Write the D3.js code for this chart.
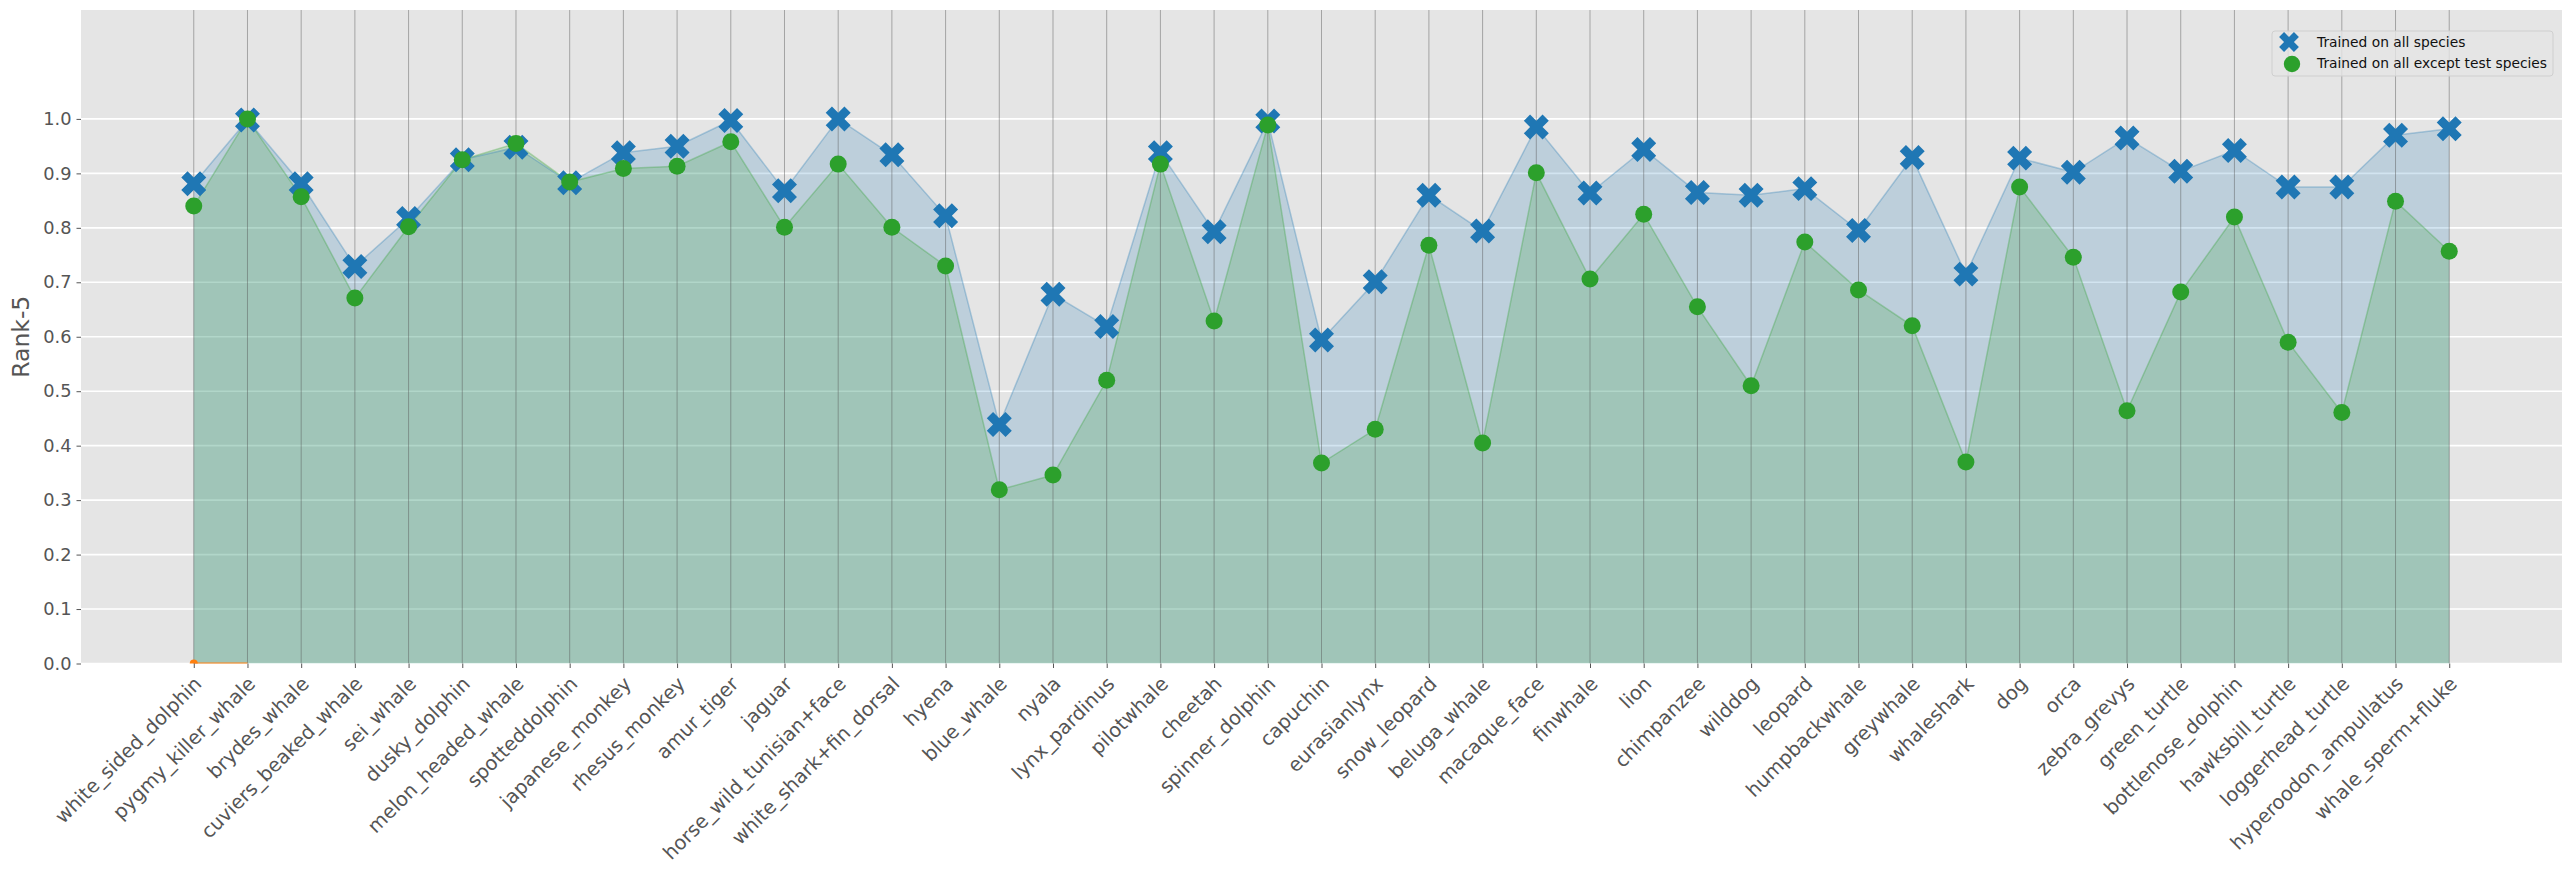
<!DOCTYPE html>
<html>
<head>
<meta charset="utf-8">
<script src="https://cdn.jsdelivr.net/npm/d3@7"></script>
<style>
  body { margin: 0; background: #fff; }
  svg { display: block; }
  svg text { font-family: "DejaVu Sans", sans-serif; }
</style>
</head>
<body>
<div id="chart"></div>
<script>
// species on the x axis
const species = [
  'white_sided_dolphin', 'pygmy_killer_whale', 'brydes_whale', 'cuviers_beaked_whale',
  'sei_whale', 'dusky_dolphin', 'melon_headed_whale', 'spotteddolphin', 'japanese_monkey',
  'rhesus_monkey', 'amur_tiger', 'jaguar', 'horse_wild_tunisian+face', 'white_shark+fin_dorsal',
  'hyena', 'blue_whale', 'nyala', 'lynx_pardinus', 'pilotwhale', 'cheetah', 'spinner_dolphin',
  'capuchin', 'eurasianlynx', 'snow_leopard', 'beluga_whale', 'macaque_face', 'finwhale',
  'lion', 'chimpanzee', 'wilddog', 'leopard', 'humpbackwhale', 'greywhale', 'whaleshark',
  'dog', 'orca', 'zebra_grevys', 'green_turtle', 'bottlenose_dolphin', 'hawksbill_turtle',
  'loggerhead_turtle', 'hyperoodon_ampullatus', 'whale_sperm+fluke',
];

// rank-5, trained on all species
const allSpecies = [
  0.881, 0.998, 0.881, 0.729, 0.817, 0.925, 0.948, 0.883, 0.938, 0.950,
  0.997, 0.868, 1.000, 0.934, 0.822, 0.439, 0.678, 0.619, 0.938, 0.793,
  0.996, 0.594, 0.701, 0.860, 0.794, 0.985, 0.864, 0.944, 0.865, 0.860,
  0.872, 0.795, 0.929, 0.715, 0.928, 0.902, 0.965, 0.904, 0.942, 0.875,
  0.875, 0.970, 0.982,
];

// rank-5, trained on all except the test species
const exceptTest = [
  0.840, 1.000, 0.857, 0.671, 0.802, 0.925, 0.955, 0.884, 0.909, 0.913,
  0.958, 0.801, 0.917, 0.801, 0.730, 0.319, 0.346, 0.520, 0.917, 0.629,
  0.989, 0.368, 0.430, 0.768, 0.405, 0.901, 0.706, 0.825, 0.655, 0.510,
  0.774, 0.686, 0.620, 0.370, 0.875, 0.746, 0.464, 0.682, 0.820, 0.590,
  0.461, 0.849, 0.757,
];

// the short orange trace sitting on the zero line
const orangeTrace = [0, 0];

const yTicks = [0, 0.1, 0.2, 0.3, 0.4, 0.5, 0.6, 0.7, 0.8, 0.9, 1.0];
const legendLabels = ['Trained on all species', 'Trained on all except test species'];

const W = 2570;
const H = 874;
const margin = { top: 10, right: 8, bottom: 210.5, left: 81 };
const width = W - margin.left - margin.right;
const height = H - margin.top - margin.bottom;

const blue = '#1f77b4';
const green = '#2ca02c';
const orange = '#ff7f0e';
const font = '"DejaVu Sans", sans-serif';

// filled "X" marker (plus with 1/3 arm thickness, turned 45 degrees)
const xMarker = (L) => {
  const h = L / 3;
  const pts = [[h, L], [h, h], [L, h], [L, -h], [h, -h], [h, -L], [-h, -L], [-h, -h],
    [-L, -h], [-L, h], [-h, h], [-h, L]];
  return `M${pts.map((p) => p.join(',')).join('L')}Z`;
};

const svg = d3.select('#chart')
  .append('svg')
  .attr('width', W)
  .attr('height', H);

svg.append('rect').attr('width', W).attr('height', H).attr('fill', '#fff');

const g = svg.append('g')
  .attr('transform', `translate(${margin.left},${margin.top})`);

const x = d3.scalePoint()
  .domain(species)
  .range([0, width])
  .padding(2.1);

const y = d3.scaleLinear()
  .domain([0, 1.2])
  .range([height, 0]);

// background + grid
g.append('rect').attr('width', width).attr('height', height).attr('fill', '#e5e5e5');

g.append('defs').append('clipPath').attr('id', 'clip')
  .append('rect').attr('width', width).attr('height', height);

g.append('g')
  .selectAll('line')
  .data(yTicks)
  .enter()
  .append('line')
  .attr('x1', 0)
  .attr('x2', width)
  .attr('y1', (d) => y(d))
  .attr('y2', (d) => y(d))
  .attr('stroke', '#fff')
  .attr('stroke-width', 1.6);

const plot = g.append('g').attr('clip-path', 'url(#clip)');

const area = d3.area()
  .x((d, i) => x(species[i]))
  .y0(y(0))
  .y1((d) => y(d));

const line = d3.line()
  .x((d, i) => x(species[i]))
  .y((d) => y(d));

plot.append('path').datum(allSpecies).attr('d', area)
  .attr('fill', blue).attr('fill-opacity', 0.2);
plot.append('path').datum(exceptTest).attr('d', area)
  .attr('fill', green).attr('fill-opacity', 0.2);

plot.append('path').datum(allSpecies).attr('d', line)
  .attr('fill', 'none').attr('stroke', blue).attr('stroke-opacity', 0.3).attr('stroke-width', 1.5);
plot.append('path').datum(exceptTest).attr('d', line)
  .attr('fill', 'none').attr('stroke', green).attr('stroke-opacity', 0.3).attr('stroke-width', 1.5);

// vertical line at each species
plot.append('g')
  .selectAll('line')
  .data(species)
  .enter()
  .append('line')
  .attr('x1', (d) => x(d))
  .attr('x2', (d) => x(d))
  .attr('y1', 0)
  .attr('y2', height)
  .attr('stroke', '#555')
  .attr('stroke-opacity', 0.45)
  .attr('stroke-width', 1);

// orange trace
plot.append('path').datum(orangeTrace).attr('d', line)
  .attr('fill', 'none').attr('stroke', orange).attr('stroke-width', 1.8);
plot.append('circle')
  .attr('cx', x(species[0]))
  .attr('cy', y(orangeTrace[0]))
  .attr('r', 4)
  .attr('fill', orange);

// markers
plot.append('g')
  .selectAll('path')
  .data(allSpecies)
  .enter()
  .append('path')
  .attr('d', xMarker(13.25))
  .attr('transform', (d, i) => `translate(${x(species[i])},${y(d)}) rotate(45)`)
  .attr('fill', blue);

plot.append('g')
  .selectAll('circle')
  .data(exceptTest)
  .enter()
  .append('circle')
  .attr('cx', (d, i) => x(species[i]))
  .attr('cy', (d) => y(d))
  .attr('r', 8.5)
  .attr('fill', green);

// axes
const xAxis = g.append('g')
  .attr('transform', `translate(0,${height})`)
  .call(d3.axisBottom(x).tickSize(4.5).tickPadding(0))
  .attr('font-family', font)
  .attr('font-size', 19.5);
xAxis.select('.domain').remove();
xAxis.selectAll('line').attr('stroke', '#555');
xAxis.selectAll('text')
  .attr('y', 0)
  .attr('dy', '0.76em')
  .attr('transform', 'translate(-2,11) rotate(-45)')
  .style('text-anchor', 'end')
  .attr('fill', '#555');

const yAxis = g.append('g')
  .call(d3.axisLeft(y).tickValues(yTicks).tickFormat(d3.format('.1f')).tickSize(4.5).tickPadding(5))
  .attr('font-family', font)
  .attr('font-size', 17.8);
yAxis.select('.domain').remove();
yAxis.selectAll('line').attr('stroke', '#555');
yAxis.selectAll('text').attr('fill', '#555');

svg.append('text')
  .attr('transform', `translate(29,${margin.top + height / 2}) rotate(-90)`)
  .attr('text-anchor', 'middle')
  .attr('fill', '#555')
  .style('font-size', '23.5px')
  .text('Rank-5');

// legend
const legend = svg.append('g').attr('transform', 'translate(2272,31)');
legend.append('rect')
  .attr('width', 281)
  .attr('height', 45)
  .attr('rx', 3)
  .attr('fill', '#e5e5e5')
  .attr('fill-opacity', 0.8)
  .attr('stroke', '#cfcfcf')
  .attr('stroke-width', 1);
legend.append('path')
  .attr('d', xMarker(10.5))
  .attr('transform', 'translate(17,11) rotate(45)')
  .attr('fill', blue);
legend.append('circle')
  .attr('cx', 20)
  .attr('cy', 33)
  .attr('r', 8.2)
  .attr('fill', green);
legend.selectAll('text')
  .data(legendLabels)
  .enter()
  .append('text')
  .attr('x', 45)
  .attr('y', (d, i) => 11 + i * 21.5)
  .attr('dy', '0.36em')
  .attr('fill', '#111')
  .style('font-size', '13.8px')
  .text((d) => d);
</script>
</body>
</html>
